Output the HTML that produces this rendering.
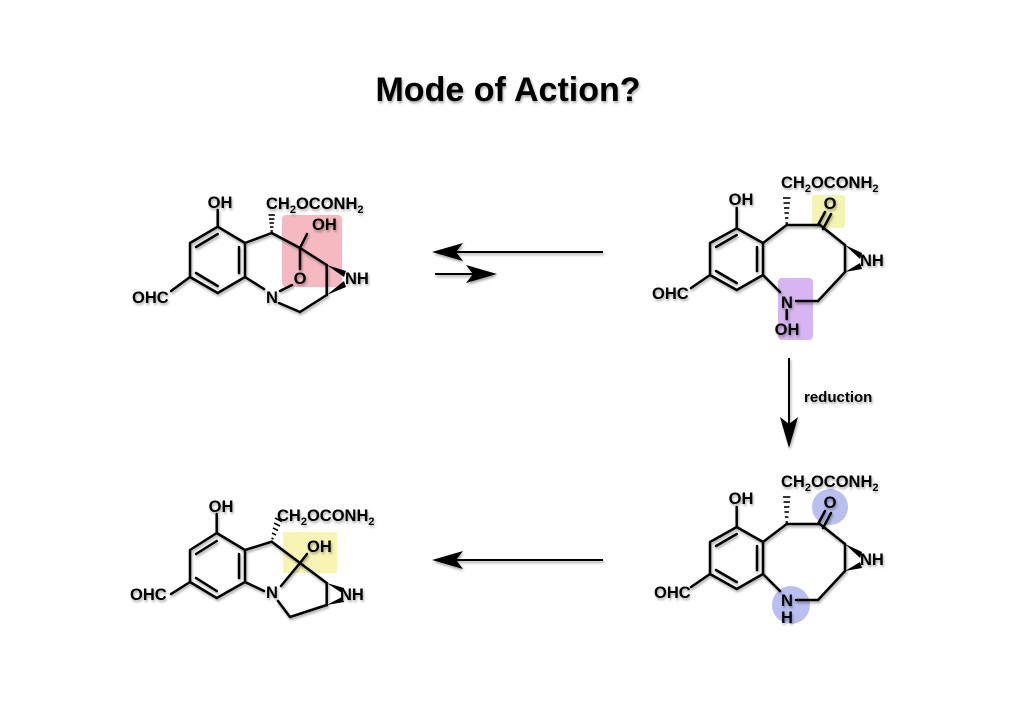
<!DOCTYPE html>
<html><head><meta charset="utf-8"><style>
html,body{margin:0;padding:0;background:#fff;}
svg{display:block;}
text{font-family:"Liberation Sans",Arial,sans-serif;font-weight:bold;fill:#000;}
</style></head><body>
<svg width="1024" height="724" viewBox="0 0 1024 724" xmlns="http://www.w3.org/2000/svg">
<defs>
<filter id="sh" x="-5%" y="-5%" width="110%" height="115%"><feGaussianBlur in="SourceAlpha" stdDeviation="1.2"/><feOffset dx="1" dy="2"/><feComponentTransfer><feFuncA type="linear" slope="0.35"/></feComponentTransfer><feMerge><feMergeNode/><feMergeNode in="SourceGraphic"/></feMerge></filter>
</defs>
<text x="508" y="101" font-size="34" text-anchor="middle" filter="url(#sh)">Mode of Action?</text>

<!-- highlights -->
<rect x="282" y="215" width="60" height="72" rx="4" fill="#f6b9c2"/>
<rect x="812" y="195" width="33" height="33" rx="3" fill="#f5f3b0"/>
<rect x="778" y="278" width="35" height="62" rx="4" fill="#d7b4f2"/>
<circle cx="830" cy="507" r="18" fill="#b9c0f0"/>
<circle cx="791" cy="605" r="19" fill="#b9c0f0"/>
<rect x="283" y="532" width="54" height="41" rx="2" fill="#f7f4b4"/>

<g stroke="#000" stroke-width="2.5" fill="none" stroke-linecap="round" stroke-linejoin="round" filter="url(#sh)">
<!-- Structure 1 -->
<polygon points="217.7,226.7 190,243 190,277 217.7,293 245,277 245,243"/>
<line x1="196" y1="247" x2="217.7" y2="234"/>
<line x1="196" y1="273" x2="217.7" y2="286"/>
<line x1="239" y1="247" x2="239" y2="273"/>
<line x1="217.7" y1="226.7" x2="217.7" y2="210"/>
<line x1="190" y1="277" x2="171" y2="291"/>
<line x1="245" y1="277" x2="264" y2="289"/>
<line x1="245" y1="243" x2="271.7" y2="233"/>
<line x1="271.7" y1="233" x2="300" y2="248"/>
<line x1="300" y1="248" x2="307" y2="234"/>
<line x1="300" y1="248" x2="300" y2="269"/>
<line x1="280" y1="291" x2="292" y2="285"/>
<line x1="300" y1="248" x2="326.7" y2="265"/>
<line x1="326.7" y1="265" x2="326.7" y2="295"/>
<line x1="279" y1="303" x2="300" y2="312"/>
<line x1="300" y1="312" x2="326.7" y2="295"/>
<!-- Structure 2 -->
<polygon points="736.7,228.3 710,243 710,275 736.7,290 763,275 763,243"/>
<line x1="716" y1="247" x2="736.7" y2="235"/>
<line x1="716" y1="271" x2="736.7" y2="283"/>
<line x1="757" y1="247" x2="757" y2="271"/>
<line x1="736.7" y1="228.3" x2="736.7" y2="208"/>
<line x1="710" y1="275" x2="691" y2="288"/>
<line x1="763" y1="275" x2="780" y2="292"/>
<line x1="763" y1="243" x2="786.7" y2="225"/>
<line x1="786.7" y1="225" x2="820" y2="225"/>
<line x1="818" y1="225" x2="825" y2="212"/>
<line x1="823" y1="229" x2="831" y2="214"/>
<line x1="820" y1="225" x2="845" y2="245"/>
<line x1="845" y1="245" x2="845" y2="272"/>
<line x1="796" y1="301" x2="818" y2="301"/>
<line x1="818" y1="301" x2="845" y2="272"/>
<line x1="786.7" y1="310" x2="786.7" y2="319"/>
<!-- Structure 3 -->
<polygon points="736.7,527 710,542 710,574 736.7,589 763,574 763,542"/>
<line x1="716" y1="546" x2="736.7" y2="534"/>
<line x1="716" y1="570" x2="736.7" y2="582"/>
<line x1="757" y1="546" x2="757" y2="570"/>
<line x1="736.7" y1="527" x2="736.7" y2="507"/>
<line x1="710" y1="574" x2="691" y2="587"/>
<line x1="763" y1="574" x2="780" y2="591"/>
<line x1="763" y1="542" x2="786.7" y2="524"/>
<line x1="786.7" y1="524" x2="820" y2="524"/>
<line x1="818" y1="524" x2="825" y2="511"/>
<line x1="823" y1="528" x2="831" y2="513"/>
<line x1="820" y1="524" x2="845" y2="544"/>
<line x1="845" y1="544" x2="845" y2="571"/>
<line x1="796" y1="600" x2="818" y2="600"/>
<line x1="818" y1="600" x2="845" y2="571"/>
<!-- Structure 4 -->
<polygon points="216.7,533 190,550 190,582 216.7,598 245,582 245,550"/>
<line x1="196" y1="554" x2="216.7" y2="541"/>
<line x1="196" y1="578" x2="216.7" y2="591"/>
<line x1="239" y1="554" x2="239" y2="578"/>
<line x1="216.7" y1="533" x2="216.7" y2="514"/>
<line x1="190" y1="582" x2="171" y2="594"/>
<line x1="245" y1="582" x2="264" y2="591"/>
<line x1="245" y1="550" x2="271.7" y2="541.7"/>
<line x1="271.7" y1="541.7" x2="300" y2="563"/>
<line x1="300" y1="563" x2="307" y2="554"/>
<line x1="300" y1="563" x2="281" y2="586"/>
<line x1="300" y1="563" x2="326.7" y2="583"/>
<line x1="326.7" y1="583" x2="326.7" y2="605"/>
<line x1="278" y1="601" x2="290" y2="617"/>
<line x1="290" y1="617" x2="326.7" y2="605"/>
</g>

<!-- wedges -->
<g fill="#000">
<polygon points="326.7,265 346,271 344,277"/>
<polygon points="326.7,295 344,281 346,287"/>
<polygon points="845,245 862,253 860,259"/>
<polygon points="845,272 860,263 862,269"/>
<polygon points="845,544 862,552 860,558"/>
<polygon points="845,571 860,562 862,568"/>
<polygon points="326.7,583 344,588 342,593"/>
<polygon points="326.7,605 342,597 344,602"/>
</g>
<!-- hashed wedges -->
<g stroke="#000" stroke-width="1.6">
<line x1="270.5" y1="231" x2="272.9" y2="231"/><line x1="270" y1="227" x2="273.4" y2="227"/><line x1="269.5" y1="223" x2="273.9" y2="223"/><line x1="269" y1="219" x2="274.4" y2="219"/><line x1="268.5" y1="215" x2="274.9" y2="215"/>
<line x1="785.5" y1="223" x2="787.9" y2="223"/><line x1="785" y1="218" x2="788.4" y2="218"/><line x1="784.5" y1="213" x2="788.9" y2="213"/><line x1="784" y1="208" x2="789.4" y2="208"/><line x1="783.5" y1="203" x2="789.9" y2="203"/><line x1="783" y1="198" x2="790.4" y2="198"/>
<line x1="785.5" y1="522" x2="787.9" y2="522"/><line x1="785" y1="517" x2="788.4" y2="517"/><line x1="784.5" y1="512" x2="788.9" y2="512"/><line x1="784" y1="507" x2="789.4" y2="507"/><line x1="783.5" y1="502" x2="789.9" y2="502"/><line x1="783" y1="497" x2="790.4" y2="497"/>
<line x1="271.5" y1="538" x2="273.5" y2="539"/><line x1="272" y1="533" x2="276" y2="535"/><line x1="273" y1="528" x2="278" y2="530.5"/><line x1="274" y1="523" x2="280" y2="526"/><line x1="275" y1="518" x2="282" y2="521.5"/>
</g>

<!-- labels -->
<g font-size="16.5" filter="url(#sh)">
<text x="220" y="208" text-anchor="middle">OH</text>
<text x="266" y="209">CH<tspan font-size="11" dy="4">2</tspan><tspan dy="-4">OCONH</tspan><tspan font-size="11" dy="4">2</tspan></text>
<text x="312" y="230">OH</text>
<text x="300" y="284" text-anchor="middle">O</text>
<text x="272" y="303" text-anchor="middle">N</text>
<text x="345" y="284">NH</text>
<text x="132" y="303">OHC</text>

<text x="741" y="205" text-anchor="middle">OH</text>
<text x="781" y="188">CH<tspan font-size="11" dy="4">2</tspan><tspan dy="-4">OCONH</tspan><tspan font-size="11" dy="4">2</tspan></text>
<text x="830" y="209" text-anchor="middle">O</text>
<text x="860" y="266">NH</text>
<text x="787" y="308" text-anchor="middle">N</text>
<text x="787" y="335" text-anchor="middle">OH</text>
<text x="652" y="299">OHC</text>

<text x="741" y="504" text-anchor="middle">OH</text>
<text x="781" y="487">CH<tspan font-size="11" dy="4">2</tspan><tspan dy="-4">OCONH</tspan><tspan font-size="11" dy="4">2</tspan></text>
<text x="830" y="508" text-anchor="middle">O</text>
<text x="860" y="565">NH</text>
<text x="787" y="606" text-anchor="middle">N</text>
<text x="787" y="623" text-anchor="middle">H</text>
<text x="654" y="598">OHC</text>

<text x="221" y="512" text-anchor="middle">OH</text>
<text x="277" y="521">CH<tspan font-size="11" dy="4">2</tspan><tspan dy="-4">OCONH</tspan><tspan font-size="11" dy="4">2</tspan></text>
<text x="307" y="552">OH</text>
<text x="272" y="598" text-anchor="middle">N</text>
<text x="340" y="600">NH</text>
<text x="130" y="600">OHC</text>

<text x="804" y="402" font-size="15">reduction</text>
</g>

<!-- arrows -->
<g filter="url(#sh)">
<line x1="603" y1="252" x2="455" y2="252" stroke="#000" stroke-width="2"/>
<polygon points="432,252 463,243 456,252 463,261" fill="#000"/>
<line x1="435" y1="274" x2="475" y2="274" stroke="#000" stroke-width="2"/>
<polygon points="497,274 466,265 473,274 466,283" fill="#000"/>
<line x1="603" y1="560" x2="455" y2="560" stroke="#000" stroke-width="2"/>
<polygon points="432,560 463,551 456,560 463,569" fill="#000"/>
<line x1="789" y1="358" x2="789" y2="425" stroke="#000" stroke-width="2"/>
<polygon points="789,448 780,417 789,424 798,417" fill="#000"/>
</g>
</svg>
</body></html>
